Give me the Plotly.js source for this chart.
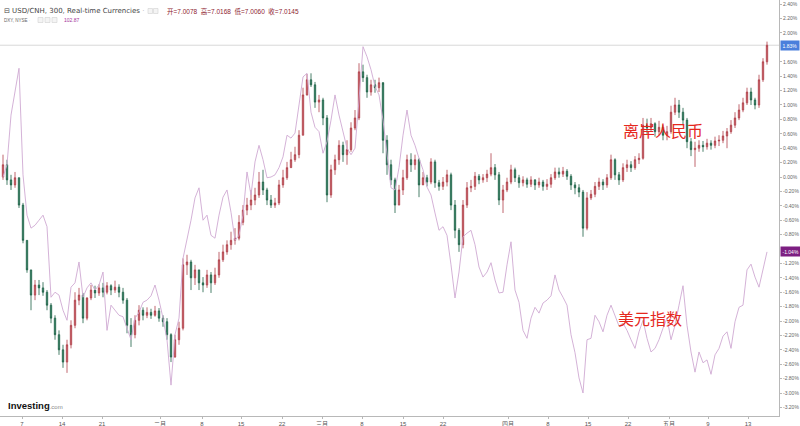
<!DOCTYPE html>
<html>
<head>
<meta charset="utf-8">
<script src="https://cdn.plot.ly/plotly-3.0.1.min.js"></script>
<style>
html,body{margin:0;padding:0;background:#fff;}
#chart{width:800px;height:426px;}
</style>
</head>
<body>
<div id="chart"></div>
<script>
// USD/CNH 300-minute candles, % change from the first bar
const cnhClose = [0.17,-0.04,-0.11,-0.01,-0.39,-0.88,-1.29,-1.64,-1.50,-1.54,-1.60,-1.78,-1.96,-2.19,-2.40,-2.57,-2.33,-2.06,-1.71,-1.64,
-1.96,-1.68,-1.57,-1.61,-1.54,-1.60,-1.51,-1.57,-1.53,-1.60,-1.71,-2.06,-2.19,-1.99,-1.85,-1.92,-1.88,-1.92,-1.86,-1.96,
-2.01,-2.19,-2.50,-2.26,-2.10,-1.22,-1.18,-1.40,-1.29,-1.47,-1.50,-1.36,-1.47,-1.36,-1.15,-1.04,-0.94,-0.88,-0.85,-0.63,
-0.46,-0.39,-0.32,-0.25,-0.07,-0.18,-0.32,-0.39,-0.36,-0.11,-0.01,0.13,0.24,0.31,0.58,1.14,1.35,1.28,1.04,1.07,
0.82,-0.25,0.10,0.24,0.44,0.31,0.38,0.68,0.82,1.46,1.38,1.18,1.28,1.24,1.31,0.51,0.17,-0.04,-0.39,-0.18,
-0.01,0.24,0.17,0.24,-0.11,-0.01,-0.07,0.21,-0.08,-0.13,-0.07,0.03,-0.39,-0.74,-0.94,-0.39,-0.15,-0.13,0.01,-0.04,
-0.01,0.04,0.13,0.03,-0.32,-0.18,-0.07,0.10,-0.01,-0.08,-0.04,-0.10,-0.04,-0.11,-0.07,-0.13,-0.10,-0.01,0.07,0.04,
0.08,0.01,-0.11,-0.15,-0.21,-0.71,-0.29,-0.24,-0.13,-0.07,-0.11,-0.01,0.24,0.03,-0.04,0.13,0.17,0.13,0.24,0.26,
0.72,0.68,0.74,0.63,0.69,0.58,0.63,0.90,1.00,0.90,0.79,0.49,0.38,0.40,0.44,0.42,0.47,0.44,0.50,0.51,
0.57,0.63,0.72,0.82,0.93,1.03,1.18,1.07,1.00,1.35,1.60,1.83];
const cnhHigh = [0.31,0.24,0.03,0.07,-0.01,-0.36,-0.88,-1.29,-1.43,-1.43,-1.46,-1.57,-1.75,-1.92,-2.13,-2.33,-2.26,-1.99,-1.60,-1.54,
-1.61,-1.67,-1.50,-1.51,-1.49,-1.47,-1.46,-1.49,-1.44,-1.49,-1.54,-1.68,-1.96,-1.92,-1.78,-1.81,-1.81,-1.83,-1.79,-1.82,
-1.92,-1.96,-2.17,-2.19,-2.01,-1.13,-1.08,-1.15,-1.22,-1.29,-1.39,-1.29,-1.32,-1.26,-1.04,-0.94,-0.88,-0.76,-0.71,-0.53,
-0.39,-0.29,-0.18,-0.15,0.07,0.10,-0.15,-0.25,-0.29,-0.04,0.10,0.21,0.35,0.42,0.65,1.24,1.43,1.44,1.32,1.14,
1.10,0.86,0.17,0.31,0.51,0.49,0.51,0.76,0.93,1.58,1.56,1.42,1.35,1.35,1.38,1.28,0.58,0.24,-0.01,-0.11,
0.10,0.31,0.33,0.31,0.26,0.07,0.03,0.26,0.24,-0.04,0.00,0.10,0.06,-0.32,-0.71,-0.32,-0.07,-0.04,0.07,0.04,
0.04,0.10,0.33,0.18,0.07,-0.11,-0.01,0.17,0.13,0.03,0.01,-0.01,0.01,-0.03,-0.01,-0.04,-0.03,0.04,0.13,0.13,
0.14,0.11,0.04,-0.07,-0.10,-0.18,-0.21,-0.18,-0.07,-0.01,-0.03,0.04,0.31,0.26,0.07,0.19,0.24,0.22,0.29,0.33,
0.82,0.81,0.82,0.76,0.78,0.72,0.71,0.99,1.10,1.07,0.96,0.82,0.54,0.49,0.51,0.50,0.53,0.51,0.56,0.58,
0.64,0.68,0.79,0.90,1.01,1.10,1.24,1.24,1.10,1.42,1.65,1.88];
const cnhLow = [-0.04,-0.11,-0.18,-0.15,-0.43,-0.92,-1.33,-1.85,-1.71,-1.64,-1.65,-1.85,-2.03,-2.26,-2.47,-2.65,-2.72,-2.38,-2.10,-1.78,
-2.03,-1.99,-1.71,-1.68,-1.65,-1.67,-1.63,-1.64,-1.61,-1.67,-1.76,-2.17,-2.36,-2.24,-2.06,-1.99,-1.96,-1.97,-1.94,-2.01,
-2.08,-2.26,-2.57,-2.51,-2.33,-2.13,-1.36,-1.57,-1.50,-1.57,-1.60,-1.54,-1.61,-1.50,-1.40,-1.18,-1.08,-1.01,-0.94,-0.88,
-0.67,-0.53,-0.46,-0.39,-0.29,-0.25,-0.39,-0.43,-0.43,-0.39,-0.15,-0.04,0.13,0.21,0.26,0.58,1.13,1.25,0.96,0.90,
0.72,-0.35,-0.29,0.03,0.17,0.21,0.17,0.35,0.65,0.79,1.32,1.10,1.13,1.17,1.18,0.33,0.03,-0.11,-0.50,-0.39,
-0.25,-0.04,0.07,0.10,-0.28,-0.11,-0.13,-0.10,-0.15,-0.19,-0.18,-0.13,-0.46,-0.85,-1.04,-0.99,-0.43,-0.21,-0.18,-0.10,
-0.08,-0.07,0.01,-0.04,-0.39,-0.50,-0.21,-0.10,-0.07,-0.15,-0.13,-0.15,-0.14,-0.18,-0.15,-0.19,-0.18,-0.15,-0.04,-0.01,
0.00,-0.04,-0.18,-0.24,-0.28,-0.83,-0.74,-0.32,-0.28,-0.18,-0.18,-0.15,-0.04,-0.04,-0.11,-0.07,0.07,0.07,0.10,0.18,
0.24,0.60,0.63,0.56,0.58,0.51,0.51,0.60,0.86,0.82,0.72,0.40,0.29,0.14,0.35,0.35,0.38,0.38,0.40,0.43,
0.47,0.40,0.60,0.68,0.79,0.90,1.00,1.00,0.94,0.96,1.32,1.56];
const cnhFirstOpen = 0.00;
// DXY, % change from the first bar
const dxyLine = [0.00,0.17,0.86,1.21,1.51,0.03,-0.53,-0.71,-0.67,-0.60,-0.53,-0.69,-1.67,-1.60,-1.64,-1.85,-1.99,-1.53,-1.47,-1.18,
-1.67,-1.54,-1.47,-1.57,-1.50,-1.32,-2.13,-1.78,-1.85,-1.92,-1.94,-2.10,-2.26,-1.96,-1.88,-1.74,-1.71,-1.65,-1.50,-1.71,
-1.96,-2.26,-2.89,-2.19,-1.96,-1.13,-0.88,-0.60,-0.29,-0.15,-0.60,-0.53,-0.81,-0.85,-0.53,-0.28,-0.18,-0.49,-0.88,-0.81,
-0.53,0.07,-0.25,0.21,0.44,0.24,-0.01,0.00,0.03,0.13,0.28,0.58,0.54,0.61,1.00,1.39,1.44,0.90,0.69,0.63,
0.33,0.49,0.79,1.14,0.86,0.63,0.40,0.31,0.40,1.07,1.81,1.67,1.49,1.26,1.14,0.79,0.31,-0.15,-0.18,0.13,
0.58,0.93,0.58,0.44,0.26,0.10,-0.14,-0.25,-0.50,-0.74,-0.69,-0.81,-1.22,-1.68,-1.32,-0.83,-0.78,-0.74,-0.94,-1.25,
-1.39,-1.32,-1.19,-1.43,-1.61,-1.60,-1.22,-0.90,-1.57,-1.74,-2.13,-2.24,-1.96,-1.81,-1.89,-1.75,-1.71,-1.65,-1.36,-1.57,
-1.67,-1.78,-2.19,-2.44,-2.79,-3.00,-2.26,-2.24,-1.92,-2.01,-2.15,-1.92,-1.78,-1.94,-2.07,-2.03,-2.13,-2.26,-2.38,-2.15,
-1.99,-2.24,-2.43,-2.38,-2.26,-2.10,-1.96,-2.26,-2.06,-1.78,-1.51,-2.06,-2.43,-2.71,-2.43,-2.58,-2.54,-2.74,-2.47,-2.38,
-2.21,-2.15,-2.38,-2.01,-1.81,-1.78,-1.29,-1.21,-1.39,-1.53,-1.29,-1.04];
const cnhLast = 1.83;
const dxyLast = -1.04;
// x axis ticks (bar index) and labels
const xTickVals = [4.75,14.75,24.75,39.25,49.75,59.5,69.75,79.75,89.75,100,110,126.25,136.25,146.25,156.25,166.5,176.25,186.25];
const xTickText = ['7','14','21','二月','8','15','22','三月','8','15','22','四月','8','15','22','五月','9','13'];
// y axis ticks
const yTickVals = [2.4,2.2,2.0,1.6,1.4,1.2,1.0,0.8,0.6,0.4,0.2,0.0,-0.2,-0.4,-0.6,-0.8,-1.2,-1.4,-1.6,-1.8,-2.0,-2.2,-2.4,-2.6,-2.8,-3.0,-3.2];
const yTickText = ['2.40%','2.20%','2.00%','1.60%','1.40%','1.20%','1.00%','0.80%','0.60%','0.40%','0.20%','0.00%','-0.20%','-0.40%','-0.60%','-0.80%','-1.20%','-1.40%','-1.60%','-1.80%','-2.00%','-2.20%','-2.40%','-2.60%','-2.80%','-3.00%','-3.20%'];

const idx = cnhClose.map((_, i) => i);
const cnhOpen = [cnhFirstOpen].concat(cnhClose.slice(0, -1));

const W = 779, H = 416;
const px = v => v / W;
const py = v => 1 - v / H;

const traces = [
  {
    type: 'scatter', mode: 'lines', x: idx, y: dxyLine,
    line: {color: '#cfa9d2', width: 0.9}, hoverinfo: 'skip'
  },
  {
    type: 'candlestick', x: idx, open: cnhOpen, high: cnhHigh, low: cnhLow, close: cnhClose,
    increasing: {line: {color: '#b04049', width: 0.8}, fillcolor: '#c55a62'},
    decreasing: {line: {color: '#1d5f45', width: 0.8}, fillcolor: '#2f8563'},
    whiskerwidth: 0, hoverinfo: 'skip'
  }
];

const cjk = 'Liberation Sans, Arial, Noto Sans CJK SC, sans-serif';

const layout = {
  width: 800, height: 426,
  margin: {l: 0, r: 21, t: 0, b: 10},
  paper_bgcolor: '#ffffff', plot_bgcolor: '#ffffff',
  showlegend: false,
  boxgap: 0.5,
  xaxis: {
    type: 'linear', range: [-0.75, 194], rangeslider: {visible: false},
    showgrid: false, zeroline: false,
    showline: true, linecolor: '#b8b8b8', linewidth: 1,
    tickmode: 'array', tickvals: xTickVals, ticktext: xTickText,
    ticks: 'outside', ticklen: 2, tickcolor: '#b8b8b8',
    tickfont: {family: cjk, size: 6, color: '#555'}
  },
  yaxis: {
    side: 'right', range: [-3.319, 2.458],
    showgrid: false, zeroline: false,
    showline: true, linecolor: '#b8b8b8', linewidth: 1,
    tickmode: 'array', tickvals: yTickVals, ticktext: yTickText,
    ticks: 'outside', ticklen: 2, tickcolor: '#b8b8b8',
    tickfont: {family: 'Liberation Sans, Arial, sans-serif', size: 5, color: '#666'}
  },
  shapes: [
    {type: 'line', xref: 'paper', yref: 'y', x0: 0, x1: 1, y0: cnhLast, y1: cnhLast,
     line: {color: '#d8d8d8', width: 1}, layer: 'below'},
    {type: 'rect', xref: 'paper', yref: 'paper', x0: px(148), x1: px(152.5), y0: py(13.5), y1: py(8.5),
     line: {color: '#d0d0d0', width: 0.6}, fillcolor: '#f4f4f4'},
    {type: 'rect', xref: 'paper', yref: 'paper', x0: px(153.5), x1: px(158), y0: py(13.5), y1: py(8.5),
     line: {color: '#d0d0d0', width: 0.6}, fillcolor: '#f4f4f4'},
    {type: 'rect', xref: 'paper', yref: 'paper', x0: px(38), x1: px(43), y0: py(22.5), y1: py(17.5),
     line: {color: '#d0d0d0', width: 0.6}, fillcolor: '#f4f4f4'},
    {type: 'rect', xref: 'paper', yref: 'paper', x0: px(45), x1: px(50), y0: py(22.5), y1: py(17.5),
     line: {color: '#d0d0d0', width: 0.6}, fillcolor: '#f4f4f4'},
    {type: 'rect', xref: 'paper', yref: 'paper', x0: px(52), x1: px(57), y0: py(22.5), y1: py(17.5),
     line: {color: '#d0d0d0', width: 0.6}, fillcolor: '#f4f4f4'}
  ],
  annotations: [
    {xref: 'paper', yref: 'paper', x: px(2), y: py(11), xanchor: 'left', yanchor: 'middle', showarrow: false,
     text: '⊟ USD/CNH, 300, Real-time Currencies <span style="color:#bbb">·</span>',
     font: {family: 'DejaVu Sans, Liberation Sans, sans-serif', size: 7, color: '#444'}},
    {xref: 'paper', yref: 'paper', x: px(165), y: py(11), xanchor: 'left', yanchor: 'middle', showarrow: false,
     text: '开=7.0078  高=7.0168  低=7.0060  收=7.0145',
     font: {family: cjk, size: 6.5, color: '#8e2431'}},
    {xref: 'paper', yref: 'paper', x: px(2), y: py(20), xanchor: 'left', yanchor: 'middle', showarrow: false,
     text: 'DXY, NYSE <span style="color:#bbb">·</span>',
     font: {family: 'Liberation Sans, Arial, sans-serif', size: 4.5, color: '#666'}},
    {xref: 'paper', yref: 'paper', x: px(62), y: py(20), xanchor: 'left', yanchor: 'middle', showarrow: false,
     text: '102.87',
     font: {family: 'Liberation Sans, Arial, sans-serif', size: 5, color: '#a3339c'}},
    {xref: 'paper', yref: 'y', x: 1, y: cnhLast, xanchor: 'left', yanchor: 'middle', xshift: 1, showarrow: false,
     text: cnhLast.toFixed(2) + '%', bgcolor: '#4a7fdc', borderpad: 1.5,
     font: {family: 'Liberation Sans, Arial, sans-serif', size: 5, color: '#ffffff'}},
    {xref: 'paper', yref: 'y', x: 1, y: dxyLast, xanchor: 'left', yanchor: 'middle', xshift: 1, showarrow: false,
     text: dxyLast.toFixed(2) + '%', bgcolor: '#7d1f82', borderpad: 1.5,
     font: {family: 'Liberation Sans, Arial, sans-serif', size: 5, color: '#ffffff'}},
    {xref: 'x', yref: 'y', x: 165, y: 0.65, xanchor: 'center', yanchor: 'middle', showarrow: false,
     text: '离岸人民币',
     font: {family: 'Noto Sans CJK SC, sans-serif', size: 16, color: '#e5281e'}},
    {xref: 'x', yref: 'y', x: 161.75, y: -1.96, xanchor: 'center', yanchor: 'middle', showarrow: false,
     text: '美元指数',
     font: {family: 'Noto Sans CJK SC, sans-serif', size: 16, color: '#e5281e'}},
    {xref: 'paper', yref: 'paper', x: px(6), y: py(405), xanchor: 'left', yanchor: 'middle', showarrow: false,
     text: '<b>Investing</b><span style="font-size:6px;color:#888">.com</span>',
     font: {family: 'Liberation Sans, Arial, sans-serif', size: 9.5, color: '#111'}}
  ]
};

Plotly.newPlot('chart', traces, layout, {displayModeBar: false, staticPlot: true});
</script>
</body>
</html>
